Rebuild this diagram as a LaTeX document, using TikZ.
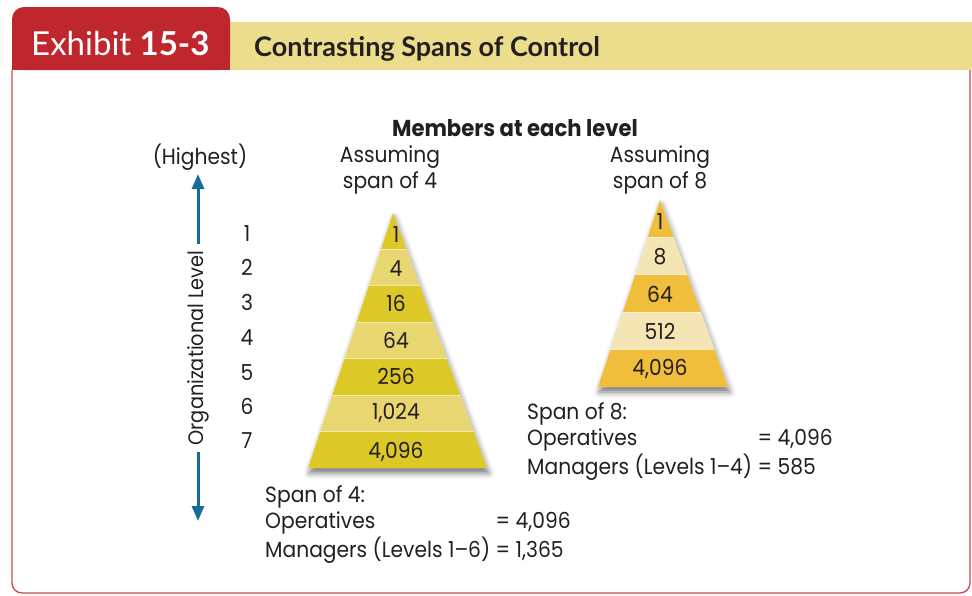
\documentclass[tikz,border=0pt]{standalone}
\usepackage{fontspec}
\setmainfont{Poppins}[FakeStretch=0.92]
\newfontfamily\hdrfont{Lato}
\usetikzlibrary{calc,arrows.meta,shadows.blur}
\definecolor{tabred}{RGB}{192,38,46}
\definecolor{bandyellow}{RGB}{235,221,139}
\definecolor{framered}{RGB}{205,70,80}
\definecolor{arrowblue}{RGB}{22,108,153}
\definecolor{p1dark}{RGB}{220,200,38}
\definecolor{p1light}{RGB}{232,214,112}
\definecolor{p2dark}{RGB}{240,190,58}
\definecolor{p2light}{RGB}{244,230,180}
\definecolor{txt}{RGB}{35,31,32}
\tikzset{
  body/.style={font=\fontsize{22}{26.5}\selectfont, text=txt, inner sep=0pt},
  num/.style={body, text height=15pt, text depth=0pt, anchor=center},
  bluearrow/.style={draw=arrowblue, line width=3pt, -{Triangle[width=12pt,length=15pt]}},
  pshadow/.style={fill=white, blur shadow={shadow xshift=1.5pt, shadow yshift=-5pt, shadow blur radius=6pt, shadow opacity=55}},
  sepline/.style={draw=white, draw opacity=0.45, line width=0.8pt}
}
\begin{document}
\begin{tikzpicture}[x=1pt,y=-1pt]
\useasboundingbox (0,0) rectangle (972,595);
% frame and header
\draw[framered, line width=1.3pt, rounded corners=10pt] (12,70) -- (12,593) -- (970,593) -- (970,70);
\fill[bandyellow] (230,22) rectangle (972,70);
\fill[tabred, rounded corners=12pt] (12,7) rectangle (230,70);
\fill[tabred] (12,40) rectangle (230,70);
\node[anchor=base west, text=white, font=\hdrfont\fontsize{33}{38}\selectfont, inner sep=0pt] (exhibit) at (31,55) {Exhibit \textbf{15-3}};
\node[anchor=base west, text=txt, font=\hdrfont\bfseries\fontsize{27}{31}\selectfont, inner sep=0pt] (title) at (254,56) {Contrasting Spans of Control};
% headings
\node[body, font=\bfseries\fontsize{23}{27}\selectfont] (members) at (515,128) {Members at each level};
\node[body] (highest) at (200,157) {(Highest)};
\node[body, align=center] (assume4) at (390,170) {Assuming\\span of 4};
\node[body, align=center] (assume8) at (660,170) {Assuming\\span of 8};
% organizational level arrow
\coordinate (uptip) at (198,174);
\coordinate (downtip) at (198,521);
\node[body, font=\fontsize{21}{26}\selectfont, rotate=90, inner xsep=6pt] (orglevel) at (198,348) {Organizational Level};
\draw[bluearrow] (orglevel.east) -- (uptip);
\draw[bluearrow] (orglevel.west) -- (downtip);
\foreach \i/\y in {1/234,2/268,3/303,4/338,5/373,6/407,7/441}
  \node[num] (lv\i) at (247,\y) {\i};
% pyramid span of 4
\coordinate (p1a) at (393,213);
\coordinate (p1l) at (308,468);
\coordinate (p1r) at (487,468);
\path[pshadow] (p1a) -- (p1l) -- (p1r) -- cycle;
\foreach \k/\c in {1/p1dark,2/p1light,3/p1dark,4/p1light,5/p1dark,6/p1light,7/p1dark} {
  \pgfmathsetmacro\ta{(\k-1)/7}
  \pgfmathsetmacro\tb{\k/7}
  \fill[\c] ($(p1a)!\ta!(p1l)$) -- ($(p1a)!\tb!(p1l)$) -- ($(p1a)!\tb!(p1r)$) -- ($(p1a)!\ta!(p1r)$) -- cycle;
}
\foreach \k in {2,...,7} {
  \pgfmathsetmacro\ta{(\k-1)/7}
  \path[sepline] ($(p1a)!\ta!(p1l)$) -- ($(p1a)!\ta!(p1r)$);
}
\node[num] (a1) at (396,235) {1};
\node[num] (a2) at (396,269) {4};
\node[num] (a3) at (396,304) {16};
\node[num] (a4) at (396,341) {64};
\node[num] (a5) at (396,377) {256};
\node[num] (a6) at (396,412) {1,024};
\node[num] (a7) at (396,451) {4,096};
% pyramid span of 8
\coordinate (p2a) at (660,200);
\coordinate (p2l) at (598,387);
\coordinate (p2r) at (728,387);
\path[pshadow] (p2a) -- (p2l) -- (p2r) -- cycle;
\foreach \k/\c in {1/p2dark,2/p2light,3/p2dark,4/p2light,5/p2dark} {
  \pgfmathsetmacro\ta{(\k-1)/5}
  \pgfmathsetmacro\tb{\k/5}
  \fill[\c] ($(p2a)!\ta!(p2l)$) -- ($(p2a)!\tb!(p2l)$) -- ($(p2a)!\tb!(p2r)$) -- ($(p2a)!\ta!(p2r)$) -- cycle;
}
\foreach \k in {2,...,5} {
  \pgfmathsetmacro\ta{(\k-1)/5}
  \path[sepline] ($(p2a)!\ta!(p2l)$) -- ($(p2a)!\ta!(p2r)$);
}
\node[num] (b1) at (660,222) {1};
\node[num] (b2) at (660,257) {8};
\node[num] (b3) at (660,295) {64};
\node[num] (b4) at (660,332) {512};
\node[num] (b5) at (660,368) {4,096};
% summaries
\node[body, anchor=base west] (span8) at (527,419) {\begin{tabular}[t]{@{}l@{\ }l@{}}Span of 8: & \\ Operatives & = 4,096\\ Managers (Levels 1–4) & = 585\end{tabular}};
\node[body, anchor=base west] (span4) at (265,502) {\begin{tabular}[t]{@{}l@{\ }l@{}}Span of 4: & \\ Operatives & = 4,096\\ Managers (Levels 1–6) & = 1,365\end{tabular}};
\end{tikzpicture}
\end{document}
